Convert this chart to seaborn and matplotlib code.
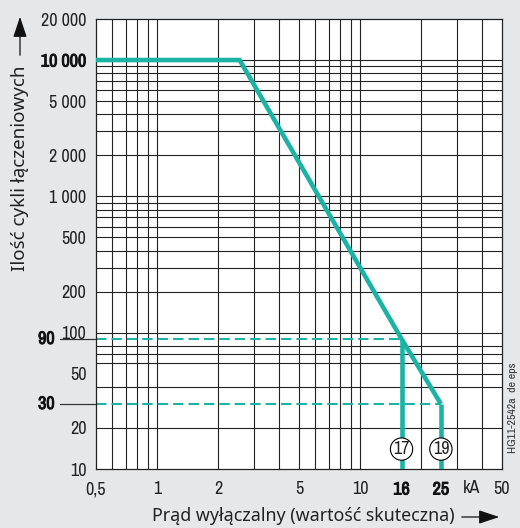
import matplotlib
matplotlib.use("Agg")
import matplotlib.pyplot as plt
import matplotlib.transforms as mtransforms
import matplotlib.patheffects as pe
import seaborn as sns
import pandas as pd

# Characteristic: switching cycles vs. breaking current
current_ka = [0.5, 2.55, 16, 25]
cycles = [10000, 10000, 90, 30]

# Rated breaking points with their vertical drop lines and markers
rated_ka = [16, 25]
rated_cycles = [90, 30]
rated_marks = ["17", "19"]

x_ticks = [0.5, 1, 2, 5, 10, 16, 20, 25, 50]
x_tick_labels = ["0,5", "1", "2", "5", "10", "16", "", "25", "50"]
x_bold = ["16", "25"]
y_ticks = [10, 20, 50, 100, 200, 500, 1000, 2000, 5000, 10000, 20000]
y_tick_labels = ["10", "20", "50", "100", "200", "500", "1 000", "2 000",
                 "5 000", "10 000", "20 000"]
y_bold = ["10 000"]

x_grid = [0.6, 0.7, 0.8, 0.9, 1, 2, 3, 4, 5, 6, 7, 8, 9, 10, 20, 30, 40]
y_grid = [20, 40, 60, 70, 80, 100, 200, 300, 400, 500, 600, 700, 800, 900,
          1000, 2000, 3000, 4000, 5000, 6000, 7000, 8000, 9000, 10000]

sns.set_style("white")
NUM_FONT = ["Archivo Narrow", "Roboto Condensed", "DejaVu Sans"]
LABEL_FONT = ["Noto Sans", "DejaVu Sans"]
plt.rcParams["font.family"] = NUM_FONT

TEAL = "#1ab3a6"
BG = "#e6e7e9"
INK = "#222222"
HEAVY = [pe.withStroke(linewidth=0.7, foreground="#111111")]

fig = plt.figure(figsize=(5.2, 5.28), dpi=100, facecolor=BG)
ax = fig.add_axes([96 / 520, 1 - 469 / 528, 406 / 520, 450 / 528])
ax.set_facecolor("white")
ax.set_xscale("log")
ax.set_yscale("log")
ax.set_xlim(0.5, 50)
ax.set_ylim(10, 20000)

# Grid
for xv in x_grid:
    ax.axvline(xv, color=INK, lw=0.8, zorder=1)
for yv in y_grid:
    ax.axhline(yv, color=INK, lw=0.8, zorder=1)
ax.hlines(50, 20, 50, color=INK, lw=0.8, zorder=1)

# Dashed reference lines to the rated points
for xr, yr in zip(rated_ka, rated_cycles):
    ax.hlines(yr, 0.5, xr, color=TEAL, lw=1.5, linestyles=(0, (5.0, 2.4)), zorder=2)

# Main characteristic
df = pd.DataFrame({"I": current_ka, "N": cycles})
sns.lineplot(data=df, x="I", y="N", sort=False, estimator=None, ax=ax,
             color=TEAL, lw=3.3, zorder=3, solid_joinstyle="miter",
             solid_capstyle="butt")
for xr, yr in zip(rated_ka, rated_cycles):
    drop = pd.DataFrame({"I": [xr, xr], "N": [yr, 10]})
    sns.lineplot(data=drop, x="I", y="N", sort=False, estimator=None, ax=ax,
                 color=TEAL, lw=3.3, zorder=3, solid_capstyle="butt")

for xr, m in zip(rated_ka, rated_marks):
    ax.text(xr, 14.0, m, ha="center", va="center", fontsize=13,
            family=NUM_FONT, color=INK, zorder=5,
            bbox=dict(boxstyle="circle,pad=0.16", fc="white", ec="black", lw=0.8))

ax.set_xlabel("")
ax.set_ylabel("")

# Ticks
ax.xaxis.set_major_locator(matplotlib.ticker.FixedLocator(x_ticks))
ax.xaxis.set_minor_locator(matplotlib.ticker.NullLocator())
ax.set_xticklabels(x_tick_labels)
ax.yaxis.set_major_locator(matplotlib.ticker.FixedLocator(y_ticks))
ax.yaxis.set_minor_locator(matplotlib.ticker.NullLocator())
ax.set_yticklabels(y_tick_labels)
ax.tick_params(axis="both", which="major", direction="out", length=5,
               width=0.9, color=INK, labelsize=13)
ax.tick_params(axis="x", pad=4)
ax.tick_params(axis="y", pad=2)
for lab in ax.get_xticklabels() + ax.get_yticklabels():
    lab.set_family(NUM_FONT)
    lab.set_color(INK)
    if lab.get_text() in x_bold + y_bold:
        lab.set_color("#111111")
        lab.set_path_effects(HEAVY)

# Long ticks and heavy labels at the rated cycle counts
ytrans = mtransforms.blended_transform_factory(ax.transAxes, ax.transData)
for yr in rated_cycles:
    ax.plot([-0.088, 0.0], [yr, yr], transform=ytrans, color="#333333",
            lw=0.9, clip_on=False)
    ax.text(-0.102, yr, str(yr), transform=ytrans, ha="right", va="center",
            fontsize=13, family=NUM_FONT, color="#111111", path_effects=HEAVY)

xtrans = mtransforms.blended_transform_factory(ax.transData, ax.transAxes)
ax.text(35.5, -0.024, "kA", transform=xtrans, ha="center", va="top",
        fontsize=13, family=NUM_FONT, color=INK)

for side in ["left", "bottom", "top", "right"]:
    ax.spines[side].set_color(INK)
    ax.spines[side].set_linewidth(0.9)

# Axis titles with arrows
fig.text(20 / 520, 1 - 168 / 528, "Ilość cykli łączeniowych", rotation=90,
         ha="center", va="center", fontsize=13.5, family=LABEL_FONT, color=INK)
fig.add_artist(matplotlib.patches.FancyArrowPatch(
    (20 / 520, 1 - 58 / 528), (20 / 520, 1 - 14 / 528),
    transform=fig.transFigure, arrowstyle="-|>,head_length=0.9,head_width=0.3",
    mutation_scale=14, color="#111111", lw=0.9))

fig.text(455 / 520, 1 - 516 / 528, "Prąd wyłączalny (wartość skuteczna)",
         ha="right", va="center", fontsize=12.8, family=LABEL_FONT, color=INK)
fig.add_artist(matplotlib.patches.FancyArrowPatch(
    (459 / 520, 1 - 517 / 528), (502 / 520, 1 - 517 / 528),
    transform=fig.transFigure, arrowstyle="-|>,head_length=0.9,head_width=0.3",
    mutation_scale=14, color="#111111", lw=0.9))

fig.text(513 / 520, 1 - 408 / 528, "HG11-2542a  de eps", rotation=90,
         ha="center", va="center", fontsize=8.5, family=NUM_FONT, color="#333333")

fig.savefig("out.png", dpi=100, facecolor=BG)
